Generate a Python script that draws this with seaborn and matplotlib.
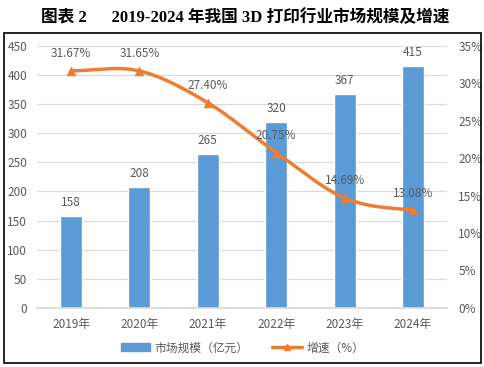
import numpy as np
import pandas as pd
import matplotlib
matplotlib.use('Agg')
import matplotlib.pyplot as plt
import seaborn as sns
from matplotlib.lines import Line2D
from matplotlib.patches import Patch, Rectangle

# ---- data ----
years = ['2019年', '2020年', '2021年', '2022年', '2023年', '2024年']
market_size = [158, 208, 265, 320, 367, 415]
growth = [31.67, 31.65, 27.40, 20.75, 14.69, 13.08]

bar_color = '#5B9BD5'
line_color = '#ED7D31'
text_gray = '#595959'

sns.set_theme(style='white')
plt.rcParams['font.family'] = ['Noto Sans CJK SC', 'DejaVu Sans']
plt.rcParams['axes.unicode_minus'] = False


def smooth_curve(y, n=30):
    # Catmull-Rom smoothing (like Excel's "smoothed line")
    pts = np.asarray(y, dtype=float)
    p = np.concatenate([[pts[0]], pts, [pts[-1]]])
    xs, ys = [], []
    for i in range(len(pts) - 1):
        p0, p1, p2, p3 = p[i], p[i + 1], p[i + 2], p[i + 3]
        m1 = (p2 - p0) / 2
        m2 = (p3 - p1) / 2
        t = np.linspace(0, 1, n)
        h00 = 2 * t**3 - 3 * t**2 + 1
        h10 = t**3 - 2 * t**2 + t
        h01 = -2 * t**3 + 3 * t**2
        h11 = t**3 - t**2
        xs.append(i + t)
        ys.append(h00 * p1 + h10 * m1 + h01 * p2 + h11 * m2)
    return np.concatenate(xs), np.concatenate(ys)


df = pd.DataFrame({'year': years, 'size': market_size, 'growth': growth})

fig = plt.figure(figsize=(4.85, 3.67), dpi=100)
ax = fig.add_axes([0.076, 0.161, 0.846, 0.714])

sns.barplot(data=df, x='year', y='size', color=bar_color, width=0.32,
            saturation=1, ax=ax, zorder=2)
ax.set_xlim(-0.5, 5.5)
ax.set_ylim(0, 450)
ax.set_yticks(range(0, 451, 50))
ax.set_xlabel('')
ax.set_ylabel('')
ax.grid(axis='y', color='#D9D9D9', linewidth=0.8, zorder=0)
ax.set_axisbelow(True)
for s in ['top', 'right', 'left']:
    ax.spines[s].set_visible(False)
ax.spines['bottom'].set_color('#D9D9D9')
ax.tick_params(axis='y', length=0, labelsize=8.5, colors=text_gray, pad=7)
ax.tick_params(axis='x', length=0, labelsize=8.5, colors=text_gray, pad=7)

for i, v in enumerate(market_size):
    ax.text(i, v + 12, str(v), ha='center', va='bottom', fontsize=8.5, color=text_gray)

ax2 = ax.twinx()
ax2.set_ylim(0, 35)
ax2.set_yticks(range(0, 36, 5))
ax2.set_yticklabels([f'{t}%' for t in range(0, 36, 5)])
ax2.tick_params(axis='y', length=0, labelsize=8.5, colors=text_gray, pad=8)
for s in ax2.spines.values():
    s.set_visible(False)

sx, sy = smooth_curve(growth)
ax2.plot(sx, sy, color=line_color, linewidth=2.5, solid_capstyle='round', zorder=3)
sns.scatterplot(x=np.arange(len(growth)), y=growth, marker='^', s=40,
                color=line_color, edgecolor=line_color, ax=ax2, zorder=4, legend=False)
for i, v in enumerate(growth):
    ax2.text(i, v + 1.4, f'{v:.2f}%', ha='center', va='bottom', fontsize=8.5, color=text_gray)

# legend
handles = [Patch(facecolor=bar_color, edgecolor=bar_color),
           Line2D([0], [0], color=line_color, linewidth=2.5, marker='^', markersize=5)]
fig.legend(handles, ['市场规模（亿元）', '增速（%）'], loc='center',
           bbox_to_anchor=(0.5, 0.052), ncol=2, frameon=False, fontsize=8.5,
           labelcolor=text_gray, handlelength=2.5, columnspacing=2.0, handletextpad=0.4)

# outer frame
fig.patches.append(Rectangle((0.008, 0.011), 0.984, 0.899, transform=fig.transFigure,
                             fill=False, edgecolor='black', linewidth=1.2))

fig.text(0.505, 0.953, '图表 2      2019-2024 年我国 3D 打印行业市场规模及增速',
         ha='center', va='center', fontsize=12, fontweight='bold', color='black',
         family=['Liberation Serif', 'Noto Sans CJK SC'])

fig.savefig('out.png', dpi=100)
